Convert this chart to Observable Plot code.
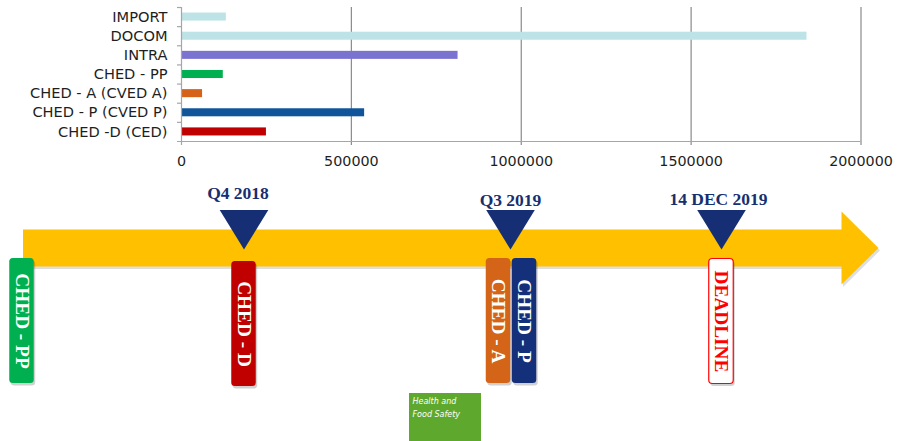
<!DOCTYPE html>
<html><head><meta charset="utf-8">
<script src="https://cdn.jsdelivr.net/npm/d3@7"></script>
<script src="https://cdn.jsdelivr.net/npm/@observablehq/plot@0.6"></script>
<style>
html,body{margin:0;padding:0;background:#fff;}
#wrap{position:relative;width:897px;height:441px;overflow:hidden;background:#fff;}
#wrap svg{display:block;}
#hfs{position:absolute;left:409px;top:393px;width:72px;height:60px;background:#5ea92d;color:#fff;font:italic 8px "DejaVu Sans",sans-serif;line-height:12.5px;padding:3px 0 0 3.5px;box-sizing:border-box;}
</style></head><body>
<div id="wrap"><div id="chart"></div><div id="timeline"></div><div id="hfs">Health and<br>Food Safety</div></div>
<script>
// ---- bar chart data ----
const categories = ["IMPORT", "DOCOM", "INTRA", "CHED - PP", "CHED - A (CVED A)", "CHED - P (CVED P)", "CHED -D (CED)"];
const values = [132000, 1841000, 814000, 123000, 62000, 539000, 250000];
const xTicks = [0, 500000, 1000000, 1500000, 2000000];
// style
const barColors = ["#bde3e6", "#bde3e6", "#7a74d0", "#00b050", "#d6621a", "#10559a", "#c00000"];

// ---- timeline data ----
const milestoneLabels = ["Q4 2018", "Q3 2019", "14 DEC 2019"];
const milestoneDates = ["2018-11-15", "2019-08-15", "2019-12-14"];
const boxLabels = ["CHED - PP", "CHED - D", "CHED - A", "CHED - P", "DEADLINE"];
const boxDates = ["2018-04-01", "2018-11-15", "2019-08-15", "2019-08-15", "2019-12-14"];
const arrowDates = ["2018-04-01", "2020-02-01", "2020-03-15"]; // tail, head base, tip

// ---- layout (styles/offsets) ----
const boxFill = ["#00b050", "#c00000", "#d46418", "#15307a", "#ffffff"];
const boxStroke = ["none", "none", "none", "none", "#ff0000"];
const boxText = ["#ffffff", "#ffffff", "#ffffff", "#ffffff", "#ff0000"];
const boxDx = [-1, 0, -12, 14, 0];
const boxTop = [83, 86, 83, 83, 83.5];
const boxH = 125;
const labelY = [18, 25, 24];
const labelDx = [-6, 0, -3];
const navy = "#162f74";

const parse = d3.utcParse("%Y-%m-%d");

// ---------- bar chart ----------
const bars = categories.map((c, i) => ({category: c, value: values[i]}));
const mT = 7, mB = 34, H1 = 175;
const step = (H1 - mT - mB) / categories.length;
const chart = Plot.plot({
  width: 897, height: H1,
  marginLeft: 181, marginRight: 36.5, marginTop: mT, marginBottom: mB,
  style: {fontFamily: '"DejaVu Sans", Verdana, sans-serif', fontSize: "14px", color: "#1e1e1e", background: "#fff", overflow: "visible"},
  x: {domain: [0, 2000000]},
  y: {domain: categories, paddingInner: 0.58, paddingOuter: 0.29, round: false},
  color: {domain: categories, range: barColors},
  marks: [
    Plot.ruleX(xTicks.slice(1), {x: d => d, stroke: "#8a8a8a", strokeWidth: 1.2, insetBottom: -4}),
    Plot.barX(bars, {x: "value", y: "category", fill: "category"}),
    Plot.ruleX([0], {x: d => d, stroke: "#a6a6a6", strokeWidth: 1.2, insetBottom: -4}),
    Plot.ruleY(categories, {y: d => d, x1: 0, x2: 0, insetLeft: -4, dy: -step / 2, stroke: "#a6a6a6", strokeWidth: 1.2}),
    Plot.ruleY([categories[categories.length - 1]], {y: d => d, insetLeft: -4, dy: step / 2, stroke: "#a6a6a6", strokeWidth: 1.2}),
    Plot.axisX({ticks: xTicks, tickFormat: d => String(d), tickSize: 0, tickPadding: 14, label: null, fontSize: 14.3}),
    Plot.axisY({tickSize: 0, tickPadding: 14, label: null, fontSize: 14.6})
  ]
});
document.getElementById("chart").append(chart);

// ---------- timeline ----------
const milestones = milestoneLabels.map((l, i) => ({label: l, date: parse(milestoneDates[i])}));
const boxes = boxLabels.map((l, i) => ({label: l, date: parse(boxDates[i])}));
const [tail, base, tip] = arrowDates.map(parse);
const arrowPts = [
  {x: tail, y: 54}, {x: base, y: 54}, {x: base, y: 36}, {x: tip, y: 72.5},
  {x: base, y: 109}, {x: base, y: 91}, {x: tail, y: 91}
];
const downTriangle = {draw(ctx, size) {
  const r = Math.sqrt(size / Math.PI);
  ctx.moveTo(-r, -1.63 * r); ctx.lineTo(r, -1.63 * r); ctx.lineTo(0, 0); ctx.closePath();
}};

const tMarks = [
  Plot.line(arrowPts, {x: "x", y: "y", curve: "linear-closed", fill: "#000", fillOpacity: 0.13, stroke: "none", dx: 1.5, dy: 2.5}),
  Plot.line(arrowPts, {x: "x", y: "y", curve: "linear-closed", fill: "#ffc000", stroke: "none"}),
  Plot.dot(milestones, {x: "date", y: () => 74, r: 24.3, symbol: downTriangle, fill: navy, stroke: "none"})
];
milestones.forEach((m, i) => {
  tMarks.push(Plot.text([m], {x: "date", y: () => labelY[i], dx: labelDx[i], text: "label",
    fontFamily: '"Liberation Serif", "Times New Roman", serif', fontWeight: "bold", fontSize: 17.5, fill: "#172f6f"}));
});
boxes.forEach((b, i) => {
  const y1 = () => boxTop[i], y2 = () => boxTop[i] + boxH;
  tMarks.push(Plot.rect([b], {x1: "date", x2: "date", y1, y2, insetLeft: -12.25, insetRight: -12.25, rx: 3.5,
    fill: "#000", fillOpacity: 0.18, dx: boxDx[i] + 1.5, dy: 2.5}));
  tMarks.push(Plot.rect([b], {x1: "date", x2: "date", y1, y2, insetLeft: -12.25, insetRight: -12.25, rx: 3.5,
    fill: boxFill[i], stroke: boxStroke[i], strokeWidth: 1.2, dx: boxDx[i]}));
  tMarks.push(Plot.text([b], {x: "date", y: () => boxTop[i] + boxH / 2, text: "label", rotate: 90, dx: boxDx[i],
    fontFamily: '"Liberation Serif", "Times New Roman", serif', fontWeight: "bold", fontSize: 19.3, fill: boxText[i]}));
});

const timeline = Plot.plot({
  width: 897, height: 266, margin: 0,
  style: {background: "#fff", overflow: "visible"},
  x: {type: "utc", axis: null,
      domain: [tail, parse(milestoneDates[0]), parse(milestoneDates[1]), parse(milestoneDates[2]), base, tip],
      range: [22.5, 243.5, 510, 721, 841, 878]},
  y: {axis: null, domain: [0, 266], range: [0, 266]},
  marks: tMarks
});
document.getElementById("timeline").append(timeline);
</script></body></html>
